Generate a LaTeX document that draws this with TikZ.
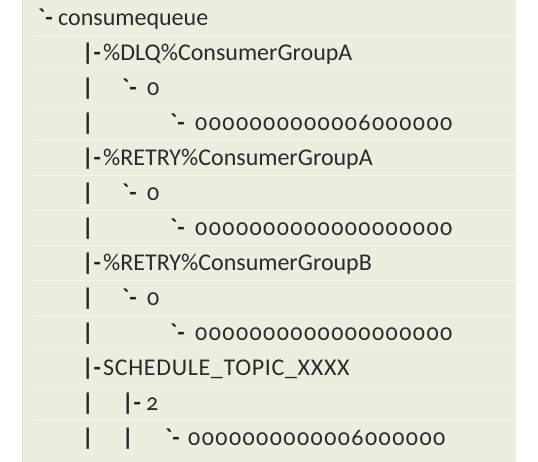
\documentclass[tikz,border=0pt]{standalone}
\usepackage{fontspec}
\setmainfont{Carlito}[Numbers=OldStyle]
\newfontfamily\digits{Carlito}[Numbers=OldStyle,LetterSpace=6]
\newfontfamily\capsname{Carlito}[LetterSpace=2.8]
\definecolor{panel}{HTML}{ECEEE0}
\definecolor{seam}{HTML}{F3F5EA}
\definecolor{rim}{HTML}{DCDFCE}
\definecolor{ink}{HTML}{2A2A2A}
\newcommand{\tick}{\textasciigrave-}

\begin{document}
\begin{tikzpicture}[x=1pt,y=-1pt,
    lbl/.style={anchor=base west,inner sep=0pt,text=ink,font=\fontsize{24}{24}\selectfont},
    stem/.style={lbl,text=ink!80!black,font=\fontsize{24}{24}\selectfont\bfseries}]
      \useasboundingbox (0,0) rectangle (538,462);
      \fill[panel] (22,0) rectangle (516,462);
      \draw[rim,line width=1pt] (22.5,0) -- (22.5,462);
      \foreach \i in {0,...,11}
        \draw[seam,line width=1pt] (33,35.5+35*\i) -- (516,35.5+35*\i);
      \node[stem] (s0) at (38,25.5) {\tick};
      \node[lbl] (root) at (58,25.5) {consumequeue};
      \node[stem] (s1) at (82,60.5) {|-};
      \node[lbl] (dlq) at (103,60.5) {\%DLQ\%ConsumerGroupA};
      \node[stem] (b2) at (82,95.5) {|};
      \node[stem] (s2) at (122,95.5) {\tick};
      \node[lbl] (dlqq) at (147,95.5) {0};
      \node[stem] (b3) at (82,130.5) {|};
      \node[stem] (s3) at (170,130.5) {\tick};
      \node[lbl] (dlqf) at (195,130.5) {\digits 0000000000006000000};
      \node[stem] (s4) at (82,165.5) {|-};
      \node[lbl] (rtya) at (103,165.5) {\%RETRY\%ConsumerGroupA};
      \node[stem] (b5) at (82,200.5) {|};
      \node[stem] (s5) at (122,200.5) {\tick};
      \node[lbl] (rtyaq) at (147,200.5) {0};
      \node[stem] (b6) at (82,235.5) {|};
      \node[stem] (s6) at (170,235.5) {\tick};
      \node[lbl] (rtyaf) at (195,235.5) {\digits 0000000000000000000};
      \node[stem] (s7) at (82,270.5) {|-};
      \node[lbl] (rtyb) at (103,270.5) {\%RETRY\%ConsumerGroupB};
      \node[stem] (b8) at (82,305.5) {|};
      \node[stem] (s8) at (122,305.5) {\tick};
      \node[lbl] (rtybq) at (147,305.5) {0};
      \node[stem] (b9) at (82,340.5) {|};
      \node[stem] (s9) at (170,340.5) {\tick};
      \node[lbl] (rtybf) at (195,340.5) {\digits 0000000000000000000};
      \node[stem] (s10) at (82,375.5) {|-};
      \node[lbl] (sched) at (103,375.5) {\capsname SCHEDULE\_TOPIC\_XXXX};
      \node[stem] (b11) at (82,410.5) {|};
      \node[stem] (s11) at (122,410.5) {|-};
      \node[lbl] (schedq) at (146,410.5) {2};
      \node[stem] (b12) at (82,445.5) {|};
      \node[stem] (c12) at (122,445.5) {|};
      \node[stem] (s12) at (165,445.5) {\tick};
      \node[lbl] (schedf) at (188,445.5) {\digits 0000000000006000000};
\end{tikzpicture}
\end{document}
